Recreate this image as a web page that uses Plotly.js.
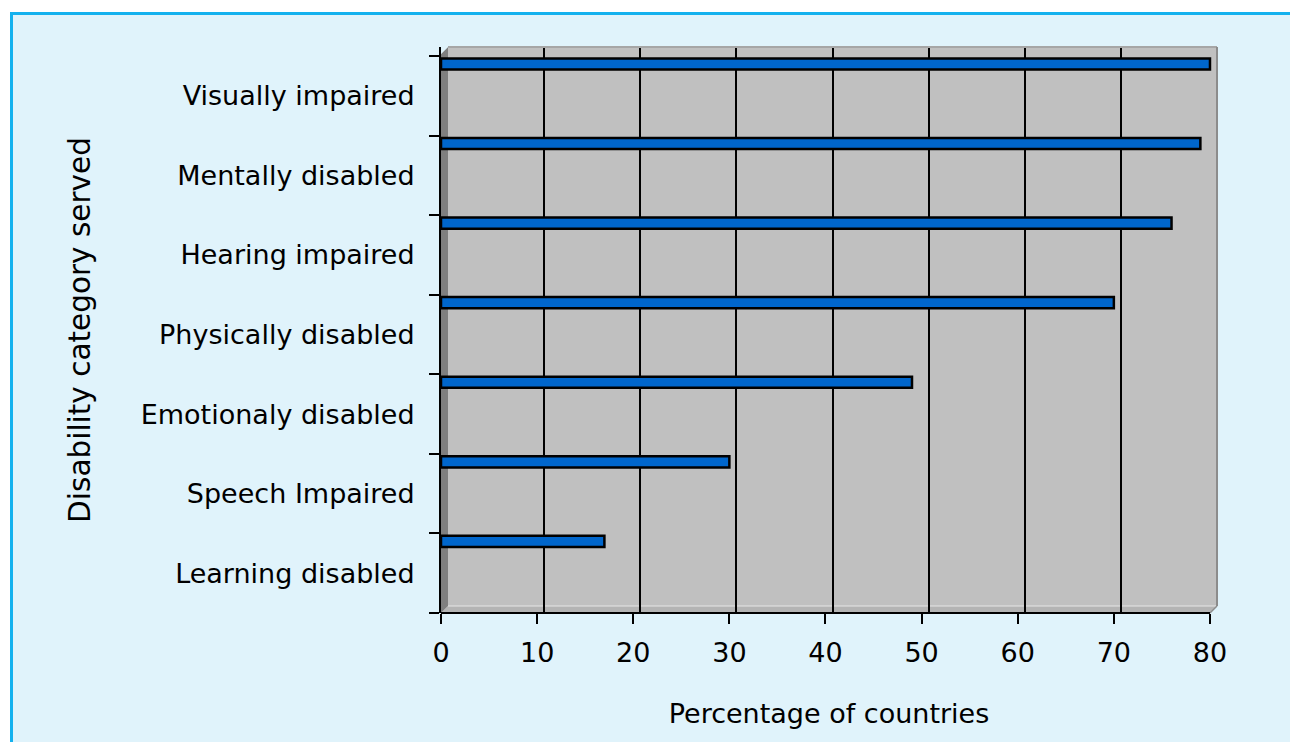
<!DOCTYPE html>
<html>
<head>
<meta charset="utf-8">
<script src="https://cdn.plot.ly/plotly-3.0.1.min.js"></script>
<style>
  html, body { margin: 0; padding: 0; background: #ffffff; width: 1290px; height: 742px; overflow: hidden; }
  #frame { position: absolute; left: 10px; top: 12px; width: 1300px; height: 760px;
           border-left: 3px solid #14b1ee; border-top: 3px solid #14b1ee; background: #e0f3fb; }
  #chart { position: absolute; left: 0; top: 0; width: 1290px; height: 742px; }
</style>
</head>
<body>
<div id="frame"></div>
<div id="chart"></div>
<script>
// Categories listed bottom to top
const categories = [
  "Learning disabled",
  "Speech Impaired",
  "Emotionaly disabled",
  "Physically disabled",
  "Hearing impaired",
  "Mentally disabled",
  "Visually impaired"
];
const percentages = [17, 30, 49, 70, 76, 79, 80];
const xTicks = [0, 10, 20, 30, 40, 50, 60, 70, 80];
const gridTicks = [10, 20, 30, 40, 50, 60, 70];

const BG = "#e0f3fb";
const FONT = "DejaVu Sans, sans-serif";

const bars = {
  type: "bar",
  orientation: "h",
  y: categories,
  x: percentages,
  offset: 0.33,
  width: 0.14,
  marker: { color: "#0066cc", line: { color: "#000000", width: 2.5 } },
  hoverinfo: "x+y",
  showlegend: false
};

// invisible helper so the shifted back-wall grid axis exists
const gridHelper = {
  type: "scatter",
  mode: "markers",
  x: [xTicks[0]],
  y: [categories[0]],
  xaxis: "x2",
  yaxis: "y",
  marker: { opacity: 0 },
  hoverinfo: "skip",
  showlegend: false
};

const dx = 7 / 776, dy = 7 / 566;

const layout = {
  width: 1290,
  height: 742,
  margin: { l: 441, r: 73, t: 47, b: 129 },
  paper_bgcolor: "rgba(0,0,0,0)",
  plot_bgcolor: "#c0c0c0",
  font: { family: FONT, size: 27, color: "#000000" },
  bargap: 0,
  xaxis: {
    range: [0, 80.73],
    tickvals: xTicks,
    ticktext: xTicks.map(String),
    ticks: "outside",
    ticklen: 10,
    tickwidth: 2,
    tickcolor: "#000000",
    ticklabelstandoff: 6,
    showgrid: false,
    zeroline: false,
    showline: false,
    tickfont: { family: FONT, size: 27, color: "#000000" },
    title: { text: "Percentage of countries", standoff: 36, font: { family: FONT, size: 27, color: "#000000" } }
  },
  xaxis2: {
    overlaying: "x",
    anchor: "y",
    range: [-0.73, 80],
    tickvals: gridTicks,
    showticklabels: false,
    ticks: "",
    showgrid: true,
    gridcolor: "#000000",
    gridwidth: 2,
    zeroline: false,
    showline: false
  },
  yaxis: {
    type: "category",
    categoryorder: "array",
    categoryarray: categories,
    range: [-0.5, 6.613],
    tickson: "boundaries",
    ticks: "outside",
    ticklen: 10,
    tickwidth: 2,
    tickcolor: "#000000",
    ticklabelstandoff: 19,
    showgrid: false,
    zeroline: false,
    showline: true,
    linecolor: "#000000",
    linewidth: 2,
    tickfont: { family: FONT, size: 27, color: "#000000" },
    title: { text: "Disability category served", standoff: 41, font: { family: FONT, size: 29.5, color: "#000000" } }
  },
  shapes: [
    // left side wall
    { type: "path", xref: "paper", yref: "paper", layer: "below",
      path: `M 0 ${1 - dy} L ${dx} 1 L ${dx} ${dy} L 0 0 Z`,
      fillcolor: "#7f7f7f", line: { width: 0 } },
    // floor
    { type: "path", xref: "paper", yref: "paper", layer: "below",
      path: `M 0 0 L ${dx} ${dy} L 1 ${dy} L ${1 - dx} 0 Z`,
      fillcolor: "#b4b4b4", line: { width: 0 } },
    { type: "line", xref: "paper", yref: "paper", layer: "below",
      x0: dx, x1: 1, y0: dy, y1: dy, line: { color: "#e6e6e6", width: 1 } },
    // top-left and bottom-right corners outside the box
    { type: "path", xref: "paper", yref: "paper", layer: "below",
      path: `M 0 1 L ${dx} 1 L 0 ${1 - dy} Z`,
      fillcolor: BG, line: { width: 0 } },
    { type: "path", xref: "paper", yref: "paper", layer: "below",
      path: `M ${1 - dx} 0 L 1 0 L 1 ${dy} Z`,
      fillcolor: BG, line: { width: 0 } },
    // back wall top and right edges
    { type: "line", xref: "paper", yref: "paper", layer: "above",
      x0: dx, x1: 1, y0: 1, y1: 1, line: { color: "#a6a6a6", width: 2 } },
    { type: "line", xref: "paper", yref: "paper", layer: "above",
      x0: 1, x1: 1, y0: dy, y1: 1, line: { color: "#8c8c8c", width: 2 } },
    { type: "line", xref: "paper", yref: "paper", layer: "above",
      x0: 1 - dx, x1: 1, y0: 0, y1: dy, line: { color: "#8c8c8c", width: 1.5 } },
    // front x axis line
    { type: "line", xref: "x", yref: "paper", layer: "above",
      x0: xTicks[0], x1: xTicks[xTicks.length - 1], y0: 0, y1: 0,
      line: { color: "#000000", width: 2 } }
  ]
};

Plotly.newPlot("chart", [bars, gridHelper], layout, { displayModeBar: false, staticPlot: true });
</script>
</body>
</html>
